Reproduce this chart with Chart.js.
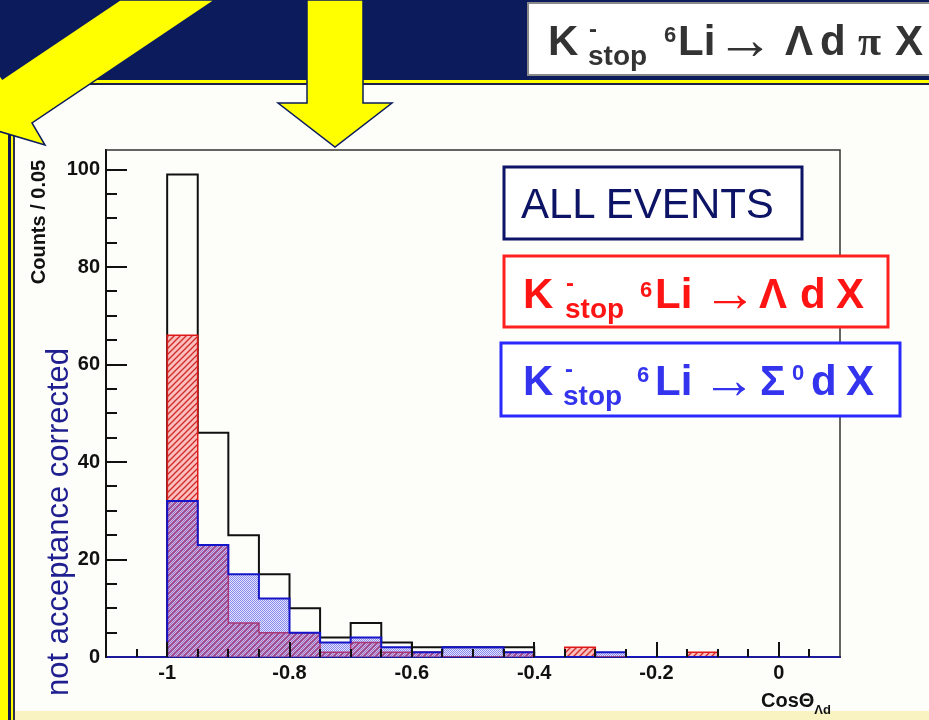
<!DOCTYPE html>
<html>
<head>
<meta charset="utf-8">
<script src="https://cdn.jsdelivr.net/npm/chart.js@4.4.1/dist/chart.umd.min.js"></script>
<style>
  html, body { margin: 0; padding: 0; background: #fdfdfa; }
  #slide { position: relative; width: 929px; height: 720px; overflow: hidden; background: #fdfdfa; }
  .abs { position: absolute; }
  #banner { left: 0; top: 0; width: 929px; height: 80px; background: #0b1b5c; }
  #bannerRule { left: 0; top: 80px; width: 929px; height: 3px; background: #ffff00; border-bottom: 2px solid #1c2048; }
  #bottomBand { left: 0; top: 711px; width: 929px; height: 9px; background: #f9f3c2; }
  #stripeA { left: 0; top: 83px; width: 8px; height: 637px; background: #ffff00; }
  #stripeB { left: 8px; top: 83px; width: 3px; height: 637px; background: #101a50; }
  #stripeC { left: 11px; top: 83px; width: 2px; height: 637px; background: #ffff00; }
  #stripeD { left: 13px; top: 83px; width: 1.5px; height: 637px; background: #303050; }
  #chart { left: 0; top: 0; }
  #deco { left: 0; top: 0; }
</style>
</head>
<body>
<div id="slide">
  <div id="banner" class="abs"></div>
  <div id="bannerRule" class="abs"></div>
  <div id="bottomBand" class="abs"></div>
  <div id="stripeA" class="abs"></div>
  <div id="stripeB" class="abs"></div>
  <div id="stripeC" class="abs"></div>
  <div id="stripeD" class="abs"></div>
  <canvas id="chart" class="abs" width="929" height="720"></canvas>
  <svg id="deco" class="abs" width="929" height="720" xmlns="http://www.w3.org/2000/svg"
       font-family="'Liberation Sans', Arial, sans-serif">
    <!-- yellow pointer arrows -->
    <polygon points="120,0 215,0 32,123 45,145 -19,126 -12,57 2.4,79"
             fill="#ffff00" stroke="#0b1b5c" stroke-width="1.5"/>
    <polygon points="307,0 363,0 363,103 392,103 335,147 278,103 307,103"
             fill="#ffff00" stroke="#0b1b5c" stroke-width="1.5"/>

    <!-- reaction title -->
    <rect x="528" y="3" width="420" height="72" fill="#ffffff" stroke="#8a8a8a" stroke-width="2"/>
    <text font-weight="bold" fill="#333333">
      <tspan x="548" y="55" font-size="42">K</tspan>
      <tspan x="589" y="37" font-size="24">-</tspan>
      <tspan x="588" y="65" font-size="28">stop</tspan>
      <tspan x="664" y="42" font-size="22">6</tspan>
      <tspan x="678" y="55" font-size="42">Li</tspan>
      <tspan x="716" y="59" font-size="58" font-weight="normal">→</tspan>
      <tspan x="785" y="55" font-size="42">Λ</tspan>
      <tspan x="820" y="55" font-size="42">d</tspan>
      <tspan x="858" y="55" font-size="42" font-family="'Liberation Serif', serif">π</tspan>
      <tspan x="895" y="55" font-size="42">X</tspan>
    </text>

    <!-- legend boxes -->
    <rect x="504" y="167" width="298" height="72" fill="#ffffff" stroke="#0d1466" stroke-width="3"/>
    <text x="521" y="218" font-size="42" fill="#0d1466">ALL EVENTS</text>

    <rect x="504" y="256" width="384" height="71" fill="#ffffff" stroke="#ff2020" stroke-width="3"/>
    <text font-weight="bold" fill="#ff1414">
      <tspan x="523" y="307.7" font-size="42">K</tspan>
      <tspan x="566" y="291" font-size="24">-</tspan>
      <tspan x="565" y="318" font-size="28">stop</tspan>
      <tspan x="640" y="297" font-size="22">6</tspan>
      <tspan x="655" y="307.7" font-size="42">Li</tspan>
      <tspan x="703" y="311" font-size="54" font-weight="normal">→</tspan>
      <tspan x="759" y="307.7" font-size="42">Λ</tspan>
      <tspan x="800" y="307.7" font-size="42">d</tspan>
      <tspan x="836" y="307.7" font-size="42">X</tspan>
    </text>

    <rect x="501" y="343" width="399" height="73" fill="#ffffff" stroke="#2a2aff" stroke-width="3"/>
    <text font-weight="bold" fill="#3434ee">
      <tspan x="523" y="395" font-size="42">K</tspan>
      <tspan x="565" y="377" font-size="24">-</tspan>
      <tspan x="563" y="405" font-size="28">stop</tspan>
      <tspan x="637" y="382" font-size="22">6</tspan>
      <tspan x="655" y="395" font-size="42">Li</tspan>
      <tspan x="702" y="398" font-size="54" font-weight="normal">→</tspan>
      <tspan x="760" y="395" font-size="42">Σ</tspan>
      <tspan x="792" y="380" font-size="22">0</tspan>
      <tspan x="811" y="395" font-size="42">d</tspan>
      <tspan x="846" y="395" font-size="42">X</tspan>
    </text>

    <!-- axis titles -->
    <text transform="translate(45,222) rotate(-90)" text-anchor="middle" font-size="20"
          font-weight="bold" fill="#111111">Counts / 0.05</text>
    <text transform="translate(68,522) rotate(-90)" text-anchor="middle" font-size="31"
          fill="#1f1f8f">not acceptance corrected</text>
    <text x="761" y="707" font-size="20" font-weight="bold" fill="#111111">CosΘ<tspan font-size="13" dy="7">Λd</tspan></text>
  </svg>
</div>

<script>
// Histogram binning: 0.05 wide bins, listed by lower edge
const BIN_WIDTH = 0.05;
const binLow = [-1.00, -0.95, -0.90, -0.85, -0.80, -0.75, -0.70, -0.65, -0.60,
                -0.55, -0.50, -0.45, -0.40, -0.35, -0.30, -0.25, -0.20, -0.15];

// Counts per bin
const allEvents = [99, 46, 25, 17, 10, 4, 7, 3, 2, 2, 2, 2];
const lambdaD   = [66, 23, 7, 5, 5, 1, 3, 1, 1, 0, 0, 1, 0, 2, 0, 0, 0, 1];
const sigmaD    = [32, 23, 17, 12, 5, 3, 4, 2, 1, 2, 2, 1, 0, 0, 1, 0, 0, 0];

// Axis labelling
const xMajorLabels = [-1, -0.8, -0.6, -0.4, -0.2, 0];
const yMajorLabels = [0, 20, 40, 60, 80, 100];

const FONT = "'Liberation Sans', Arial, sans-serif";

// Turn per-bin counts into the corner points of a step outline
function stepPoints(counts) {
  const pts = [{ x: binLow[0], y: 0 }];
  counts.forEach((c, i) => pts.push({ x: binLow[i], y: c }));
  pts.push({ x: binLow[counts.length - 1] + BIN_WIDTH, y: 0 });
  return pts;
}

// Diagonal red hatching on a pink ground
function makeRedHatch() {
  const c = document.createElement('canvas');
  c.width = 6; c.height = 6;
  const g = c.getContext('2d');
  g.fillStyle = 'rgba(250,150,150,0.6)';
  g.fillRect(0, 0, 6, 6);
  g.strokeStyle = '#d02828';
  g.lineWidth = 1.3;
  g.beginPath();
  g.moveTo(-1, 7); g.lineTo(7, -1);
  g.moveTo(-4, 4); g.lineTo(4, -4);
  g.moveTo(2, 10); g.lineTo(10, 2);
  g.stroke();
  return g.createPattern(c, 'repeat');
}

// Fine translucent blue checker
function makeBlueHatch() {
  const c = document.createElement('canvas');
  c.width = 2; c.height = 2;
  const g = c.getContext('2d');
  g.fillStyle = 'rgba(150,150,255,0.25)';
  g.fillRect(0, 0, 2, 2);
  g.fillStyle = 'rgba(50,50,225,0.5)';
  g.fillRect(0, 0, 1, 1);
  g.fillRect(1, 1, 1, 1);
  return g.createPattern(c, 'repeat');
}

// Frame and inward tick marks drawn over the histograms
const frameTicks = {
  id: 'frameTicks',
  afterDatasetsDraw(chart) {
    const { ctx, chartArea: a, scales: { x, y } } = chart;
    ctx.save();
    ctx.strokeStyle = '#333333';
    ctx.lineWidth = 1.5;
    ctx.beginPath();
    ctx.moveTo(a.left, a.top);
    ctx.lineTo(a.right, a.top);
    ctx.lineTo(a.right, a.bottom);
    ctx.stroke();

    ctx.strokeStyle = '#111111';
    ctx.lineWidth = 2;
    ctx.beginPath();
    y.ticks.forEach(t => {
      const v = t.value;
      if (v <= 0 || Math.abs(v / 5 - Math.round(v / 5)) > 1e-6) return;
      const major = Math.round(v) % 20 === 0;
      const py = Math.round(y.getPixelForValue(v));
      ctx.moveTo(a.left, py);
      ctx.lineTo(a.left + (major ? 21 : 11), py);
    });
    x.ticks.forEach(t => {
      const r = Math.round(t.value * 100);
      if (r <= -110 || r >= 10 || r % 5 !== 0) return;
      const major = r % 20 === 0;
      const px = Math.round(x.getPixelForValue(t.value));
      ctx.moveTo(px, a.bottom);
      ctx.lineTo(px, a.bottom - (major ? 15 : 8));
    });
    ctx.stroke();
    ctx.restore();
  }
};

const tickFont = { family: FONT, size: 20, weight: 'bold' };

new Chart(document.getElementById('chart'), {
  type: 'line',
  data: {
    datasets: [
      {
        label: 'ALL EVENTS',
        data: stepPoints(allEvents),
        stepped: 'before',
        borderColor: '#111111',
        borderWidth: 2,
        fill: false,
        pointRadius: 0,
        order: 3
      },
      {
        label: 'K- 6Li → Λ d X',
        data: stepPoints(lambdaD),
        stepped: 'before',
        borderColor: '#e01818',
        borderWidth: 1.5,
        backgroundColor: makeRedHatch(),
        fill: 'origin',
        pointRadius: 0,
        order: 2
      },
      {
        label: 'K- 6Li → Σ0 d X',
        data: stepPoints(sigmaD),
        stepped: 'before',
        borderColor: '#1414c8',
        borderWidth: 2,
        backgroundColor: makeBlueHatch(),
        fill: 'origin',
        pointRadius: 0,
        order: 1
      }
    ]
  },
  options: {
    responsive: false,
    animation: false,
    events: [],
    layout: { padding: { left: 0, top: 150, right: 89, bottom: 0 } },
    plugins: { legend: { display: false }, tooltip: { enabled: false } },
    scales: {
      x: {
        type: 'linear',
        min: -1.1,
        max: 0.1,
        afterFit(s) { s.height = 63; },
        grid: { drawOnChartArea: false, drawTicks: false },
        border: { display: true, color: '#1a1a9a', width: 2 },
        ticks: {
          stepSize: 0.05,
          autoSkip: false,
          maxRotation: 0,
          padding: 4,
          color: '#111111',
          font: tickFont,
          callback(v) {
            const hit = xMajorLabels.find(m => Math.abs(m - v) < 1e-6);
            return hit === undefined ? '' : String(hit);
          }
        }
      },
      y: {
        type: 'linear',
        min: 0,
        max: 104,
        afterFit(s) { s.width = 106; },
        grid: { drawOnChartArea: false, drawTicks: false },
        border: { display: true, color: '#111111', width: 2 },
        ticks: {
          stepSize: 5,
          includeBounds: false,
          autoSkip: false,
          padding: 6,
          color: '#111111',
          font: tickFont,
          callback(v) {
            return yMajorLabels.includes(v) ? String(v) : '';
          }
        }
      }
    }
  },
  plugins: [frameTicks]
});
</script>
</body>
</html>
